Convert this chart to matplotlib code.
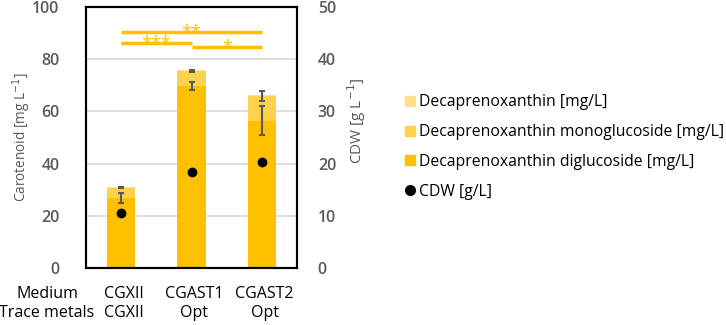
import numpy as np
import matplotlib
matplotlib.use('Agg')
import matplotlib.pyplot as plt
from matplotlib.lines import Line2D

plt.rcParams['font.family'] = ['Open Sans', 'DejaVu Sans']

# Data
media = ['CGXII', 'CGAST1', 'CGAST2']
trace_metals = ['CGXII', 'Opt', 'Opt']
diglucoside = [26.8, 69.8, 56.5]
monoglucoside = [4.0, 5.7, 9.3]
decaprenoxanthin = [0.3, 0.4, 0.5]
diglucoside_err = [1.8, 1.5, 5.4]
monoglucoside_err = [0.3, 0.3, 2.0]
cdw = [10.6, 18.4, 20.4]
cdw_err = [0.5, 0.3, 0.3]

# significance brackets: (start idx, end idx, height, label)
sig = [(0, 2, 90.5, '**'), (0, 1, 86.3, '***'), (1, 2, 84.7, '*')]

c_di = '#FFC000'
c_mono = '#FFD24D'
c_dec = '#FFE28A'
grey = '#595959'

fig = plt.figure(figsize=(7.26, 3.25), dpi=100)
ax = fig.add_axes([86/726, 1-268/325, 211/726, 261/325])
ax2 = ax.twinx()

x = np.arange(len(media))
w = 0.4
di = np.array(diglucoside)
mo = np.array(monoglucoside)
de = np.array(decaprenoxanthin)

ax.bar(x, di, w, color=c_di, zorder=2)
ax.bar(x, mo, w, bottom=di, color=c_mono, zorder=2)
ax.bar(x, de, w, bottom=di + mo, color=c_dec, zorder=2)
ax.errorbar(x, di, yerr=diglucoside_err, fmt='none', ecolor=grey, capsize=2.5, elinewidth=1.5, capthick=1.5, zorder=3)
ax.errorbar(x, di + mo, yerr=monoglucoside_err, fmt='none', ecolor=grey, capsize=2.5, elinewidth=1.5, capthick=1.5, zorder=3)

ax2.errorbar(x, cdw, yerr=cdw_err, fmt='o', color='black', ms=6, ecolor=grey, capsize=2, elinewidth=1, zorder=4)

for i0, i1, h, lab in sig:
    ax.plot([x[i0], x[i1]], [h, h], color=c_di, lw=2.5, zorder=3, solid_capstyle='butt')
    ax.text((x[i0] + x[i1]) / 2, h - 2.3, lab, color=c_di, ha='center', va='baseline', fontsize=13)

ax.set_xlim(-0.5, 2.5)
ax.set_ylim(0, 100)
ax2.set_ylim(0, 50)
ax.set_yticks(range(0, 101, 20))
ax2.set_yticks(range(0, 51, 10))
ax.grid(axis='y', color='#D9D9D9', lw=1.2, zorder=0)
ax.set_axisbelow(True)
ax.set_xticks([])
for a in (ax, ax2):
    a.tick_params(length=0, labelsize=11.5, labelcolor=grey)
    for s in a.spines.values():
        s.set_color('black')
        s.set_linewidth(1.5)
for lbl in ax.get_yticklabels() + ax2.get_yticklabels():
    lbl.set_fontweight('semibold')
ax.tick_params(axis='y', pad=19)
ax2.tick_params(axis='y', pad=15)

ax.set_ylabel('Carotenoid [mg L$^{-1}$]', color=grey, fontsize=9.8)
ax2.set_ylabel('CDW [g L$^{-1}$]', color=grey, fontsize=11)
ax.yaxis.set_label_coords(-0.25, 0.5)
ax2.yaxis.set_label_coords(1.227, 0.563)

# two-row category labels
for xi, m, t in zip(x, media, trace_metals):
    ax.text(xi + 0.04, -9.8, m, ha='center', va='center', fontsize=11.5, clip_on=False)
    ax.text(xi + 0.04, -17.2, t, ha='center', va='center', fontsize=11.5, clip_on=False)
fig.text(47/726, 1-294/325, 'Medium', ha='center', va='center', fontsize=11.5)
fig.text(47/726, 1-313/325, 'Trace metals', ha='center', va='center', fontsize=11.5)

handles = [
    Line2D([], [], marker='s', ls='none', color=c_dec, ms=7),
    Line2D([], [], marker='s', ls='none', color=c_mono, ms=7),
    Line2D([], [], marker='s', ls='none', color=c_di, ms=7),
    Line2D([], [], marker='o', ls='none', color='black', ms=7),
]
labels = ['Decaprenoxanthin [mg/L]', 'Decaprenoxanthin monoglucoside [mg/L]',
          'Decaprenoxanthin diglucoside [mg/L]', 'CDW [g/L]']
fig.legend(handles, labels, loc='upper left', bbox_to_anchor=(399/726, 1-88/325),
           frameon=False, fontsize=11.3, handlelength=0.6, handletextpad=0.3,
           labelspacing=0.88, borderaxespad=0)

fig.savefig('out.png', dpi=100)
